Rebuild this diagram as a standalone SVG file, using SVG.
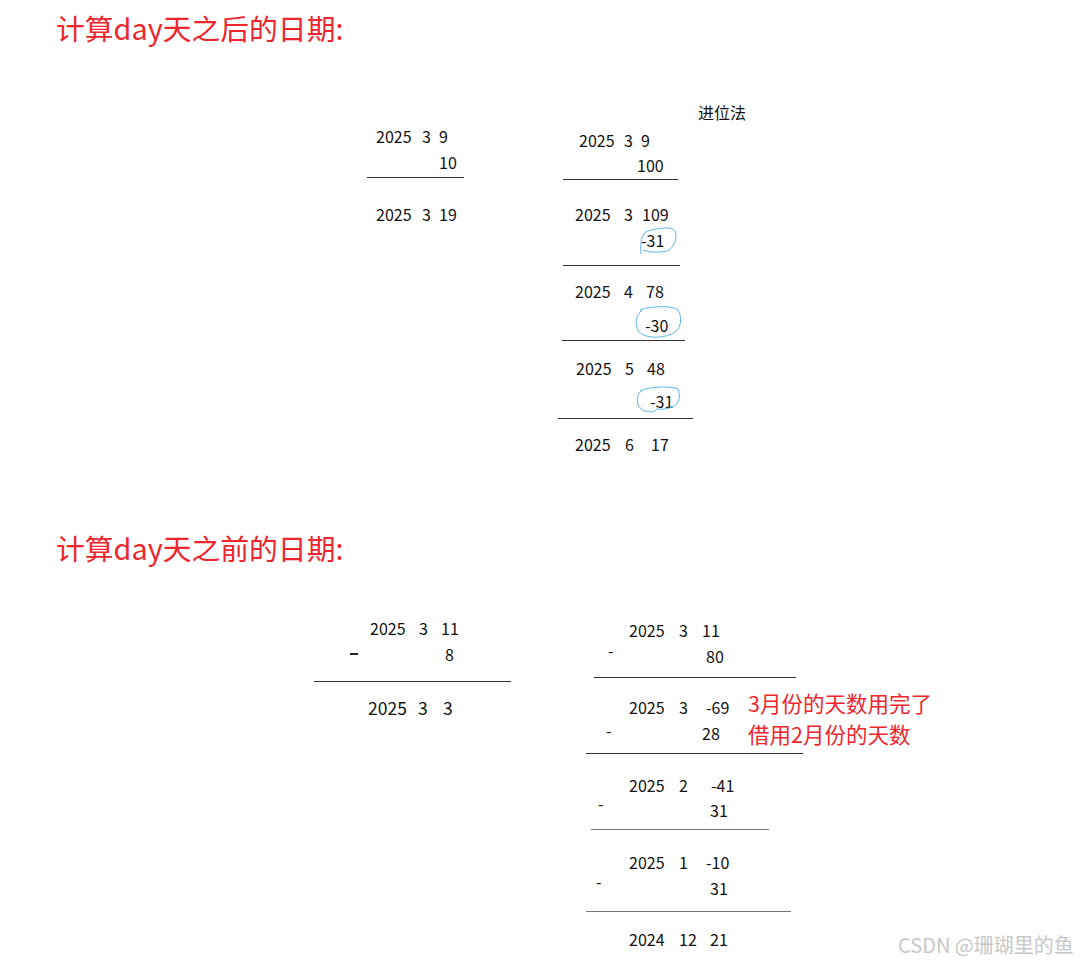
<svg xmlns="http://www.w3.org/2000/svg" width="1082" height="964" viewBox="0 0 1082 964">
<style>
.t{font-family:"Noto Sans CJK SC","Noto Sans",sans-serif;font-size:16px;fill:#111}
.b{font-size:17.5px}
.h{font-family:"Noto Sans CJK SC","Noto Sans",sans-serif;font-size:28.8px;fill:#f0262f}
.r{font-family:"Noto Sans CJK SC","Noto Sans",sans-serif;font-size:21.5px;fill:#f0262f}
.ln{stroke:#333;stroke-width:1.2}
.lg{stroke:#777;stroke-width:1.2}
.c{fill:none;stroke:#5ab6e6;stroke-width:1}
.w{font-family:"Noto Sans CJK SC","Noto Sans",sans-serif;font-size:20px;fill:#c8c8c8}
</style>
<rect width="1082" height="964" fill="#fff"/>
<text class="h" x="56" y="40">计算day天之后的日期:</text>
<text class="h" x="56" y="560">计算day天之前的日期:</text>

<g id="add-simple">
<text class="t" x="376" y="143">2025</text><text class="t" x="422" y="143">3</text><text class="t" x="439" y="143">9</text>
<text class="t" x="439" y="169">10</text>
<line class="ln" x1="367" y1="177.5" x2="464" y2="177.5"/>
<text class="t" x="376" y="221">2025</text><text class="t" x="422" y="221">3</text><text class="t" x="439" y="221">19</text>
</g>

<g id="add-carry">
<text class="t" x="698" y="119">进位法</text>
<text class="t" x="579" y="147">2025</text><text class="t" x="624" y="147">3</text><text class="t" x="641" y="147">9</text>
<text class="t" x="637" y="172">100</text>
<line class="ln" x1="563" y1="179.5" x2="678" y2="179.5"/>
<text class="t" x="575" y="221">2025</text><text class="t" x="624" y="221">3</text><text class="t" x="642" y="221">109</text>
<text class="t" x="641" y="247">-31</text>
<path class="c" d="M641,254 C640,244 641,233 648,231 C658,228 672,226 675,231 C678,238 674,248 667,251 C658,253 648,252 643,250"/>
<line class="ln" x1="563" y1="265.5" x2="680" y2="265.5"/>
<text class="t" x="575" y="298">2025</text><text class="t" x="624" y="298">4</text><text class="t" x="646" y="298">78</text>
<text class="t" x="645" y="332">-30</text>
<path class="c" d="M640,310 C650,306 672,305 678,310 C683,318 681,330 672,334 C660,339 645,338 639,332 C634,324 636,315 642,310"/>
<line class="ln" x1="562" y1="340.5" x2="685" y2="340.5"/>
<text class="t" x="576" y="375">2025</text><text class="t" x="625" y="375">5</text><text class="t" x="647" y="375">48</text>
<text class="t" x="650" y="408">-31</text>
<path class="c" d="M640,391 C650,386 672,386 678,389 C681,396 679,405 672,407 C665,410 660,409 657,409 C654,413 650,412 645,411 C636,408 635,397 641,391"/>
<line class="ln" x1="558" y1="418.5" x2="693" y2="418.5"/>
<text class="t" x="575" y="451">2025</text><text class="t" x="625" y="451">6</text><text class="t" x="651" y="451">17</text>
</g>

<g id="sub-simple">
<text class="t" x="370" y="635">2025</text><text class="t" x="419" y="635">3</text><text class="t" x="441" y="635">11</text>
<line x1="350" y1="654" x2="358" y2="654" stroke="#222" stroke-width="2"/>
<text class="t" x="445" y="661">8</text>
<line class="ln" x1="314" y1="681.5" x2="511" y2="681.5"/>
<text class="t b" x="368" y="715">2025</text><text class="t b" x="418" y="715">3</text><text class="t b" x="443" y="715">3</text>
</g>

<g id="sub-borrow">
<text class="t" x="629" y="637">2025</text><text class="t" x="679" y="637">3</text><text class="t" x="702" y="637">11</text>
<text class="t" x="608" y="657">-</text>
<text class="t" x="706" y="663">80</text>
<line class="ln" x1="594" y1="677.5" x2="796" y2="677.5"/>
<text class="t" x="629" y="714">2025</text><text class="t" x="679" y="714">3</text><text class="t" x="706" y="714">-69</text>
<text class="t" x="606" y="737">-</text>
<text class="t" x="702" y="740">28</text>
<line class="ln" x1="586" y1="753.5" x2="803" y2="753.5"/>
<text class="r" x="748" y="712">3月份的天数用完了</text>
<text class="r" x="748" y="743">借用2月份的天数</text>
<text class="t" x="629" y="792">2025</text><text class="t" x="679" y="792">2</text><text class="t" x="711" y="792">-41</text>
<text class="t" x="598" y="810">-</text>
<text class="t" x="710" y="817">31</text>
<line class="lg" x1="591" y1="829.5" x2="769" y2="829.5"/>
<text class="t" x="629" y="869">2025</text><text class="t" x="679" y="869">1</text><text class="t" x="706" y="869">-10</text>
<text class="t" x="596" y="888">-</text>
<text class="t" x="710" y="895">31</text>
<line class="lg" x1="586" y1="911.5" x2="791" y2="911.5"/>
<text class="t" x="629" y="946">2024</text><text class="t" x="679" y="946">12</text><text class="t" x="710" y="946">21</text>
</g>

<text class="w" x="898" y="953">CSDN @珊瑚里的鱼</text>
</svg>
